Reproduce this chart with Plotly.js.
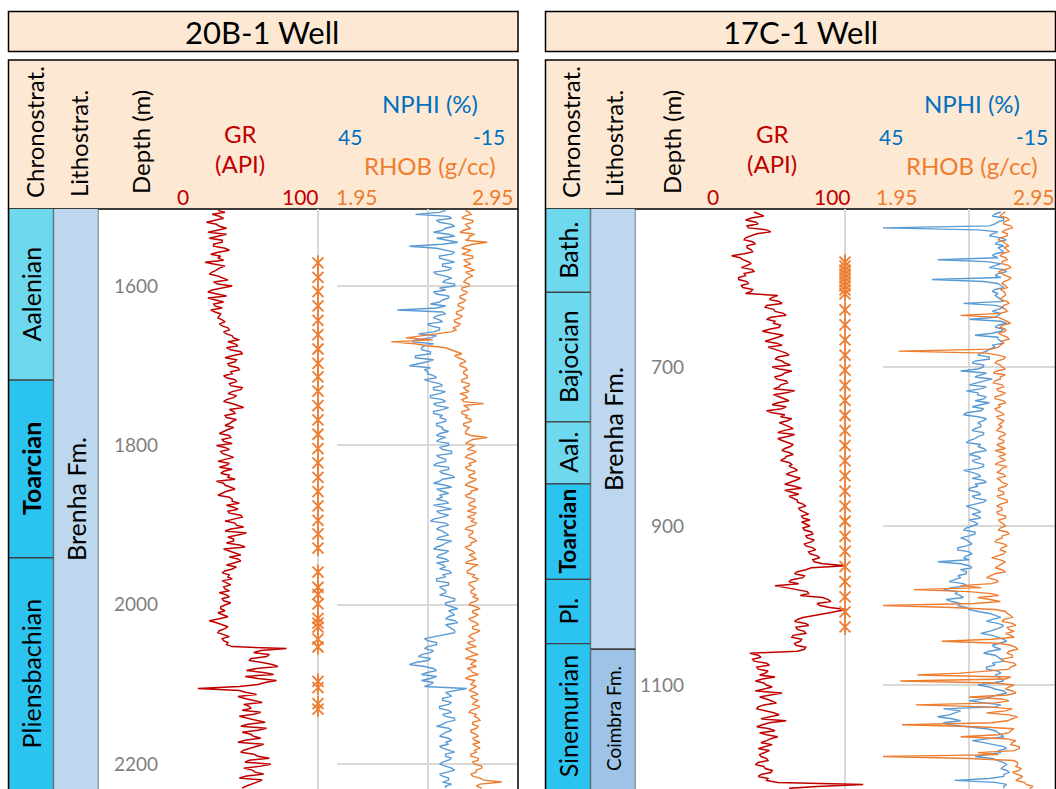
<!DOCTYPE html>
<html>
<head>
<meta charset="utf-8">
<script src="https://cdn.plot.ly/plotly-3.0.1.min.js"></script>
<style>html,body{margin:0;padding:0;background:#fff;}#chart{width:1056px;height:789px;}</style>
</head>
<body>
<div id="chart"></div>
<script>
// ---------------- DATA ----------------
// Log sampling (curves are read every 2.5 m from the picture)
const LOG_STEP = 2.5;

// 20B-1 well (left)
const WELL_L_NAME = '20B-1 Well';
const CHR_L_NAMES = ['Aalenian', 'Toarcian', 'Pliensbachian'];
const CHR_L_TOPS  = [1490, 1718, 1941];
const CHR_L_BASES = [1718, 1941, 2245];
const LIT_L_NAMES = ['Brenha Fm.'];
const LIT_L_TOPS  = [1490];
const LIT_L_BASES = [2245];
const DEPTH_TICKS_L = [1600, 1800, 2000, 2200];
const SAMPLES_L = [1571,1589,1607,1625,1643,1661,1679,1697,1714,1732,1750,1768,1786,1804,1822,1840,1858,1876,1894,1911,1929,
  1959,1978,1987,1999,2017,2023,2028,2043,2053,2096,2104,2124,2131];
const LOG_TOP_L = 1505;
const GR_L = [30,35,26,31,34,27,22,29,31,36,28,23,36,30,24,33,33,27,27,35,38,30,25,32,30,34,21,28,35,31,29,26,24,30,33,37,27,30,40,32,26,23,31,36,23,29,34,27,28,33,25,28,32,31,
  30,33,35,31,33,37,38,34,36,40,
  41,45,37,42,44,36,39,46,47,40,35,43,42,37,38,44,45,39,40,34,36,42,43,38,39,47,46,40,37,43,41,36,34,40,44,48,38,41,42,35,36,43,40,38,35,41,
  37,34,31,38,39,33,34,40,29,35,38,32,33,37,41,35,30,38,36,31,40,34,32,38,37,42,29,34,35,39,42,36,33,30,38,40,
  40,45,36,41,44,37,38,46,47,40,35,42,43,48,39,35,50,44,37,41,41,36,45,49,34,38,42,46,38,44,46,40,36,43,40,35,33,38,
  37,40,33,36,39,34,35,38,31,36,38,33,34,39,36,32,32,35,30,34,37,31,24,29,33,37,35,31,30,34,38,33,34,37,36,40,
  78,60,55,66,64,53,52,61,68,72,57,50,62,69,49,58,71,63,58,45,
  16,45,
  50,57,44,49,56,61,48,52,53,47,60,55,45,51,57,63,51,46,64,58,47,53,55,60,49,44,62,57,53,48,46,55,58,66,52,49,67,60,48,54,56,62,50,45,61,57,54,50,47];
const NPHI_L = [9,11,19,8,7,12,11,7,6,9,10,13,8,6,12,9,5,10,21,12,9,6,7,11,11,8,6,10,10,7,8,13,12,9,
  7,9,10,6,6,11,9,13,12,8,8,10,11,14,9,12,25,10,9,12,13,11,10,15,14,11,11,13,
  18,12,14,19,20,13,16,17,
  17,14,14,19,19,13,15,18,21,14,16,15,
  15,13,12,16,14,11,10,13,13,9,11,14,14,10,9,13,12,8,10,13,13,10,11,9,9,12,12,10,10,8,11,12,
  9,11,12,8,8,11,10,7,7,12,11,9,9,12,13,8,8,11,10,7,6,10,11,13,9,7,12,10,8,11,10,12,9,8,13,10,7,12,11,8,
  10,13,14,9,8,11,12,10,9,8,11,12,7,9,10,12,13,8,9,11,12,9,8,12,10,9,11,8,7,10,9,12,12,8,8,11,10,9,9,11,
  8,6,6,9,9,7,5,8,7,6,8,9,6,5,9,8,7,6,6,9,
  13,16,15,12,12,15,16,13,14,17,18,14,15,19,21,16,13,12,15,17,12,14,17,13,14,16,
  2,6,
  9,8,7,10,10,7,8,11,11,8,7,10,9,6,6,9,10,12,8,7,9,10,11,8,7,9,8,11,10,8,6,9,9,7,8,10,11,9,7,6,9,11,10,8,8,10,7,9,9];
const RHOB_L = [2.66,2.68,2.69,2.65,2.64,2.70,2.70,2.66,2.67,2.69,2.65,2.63,2.71,2.68,2.68,2.66,2.78,2.70,2.66,2.64,2.69,2.67,2.64,2.70,2.70,2.65,2.67,2.69,2.65,2.68,2.71,2.66,2.68,2.70,
  2.67,2.66,2.65,2.68,2.68,2.64,2.64,2.67,2.66,2.63,2.63,2.66,2.65,2.62,2.62,2.65,2.64,2.61,2.61,2.64,2.63,2.60,2.60,2.63,2.62,2.59,2.61,2.58,
  2.50,2.42,2.33,2.48,2.25,2.38,2.45,2.55,
  2.58,2.62,2.64,2.60,2.62,2.65,2.66,2.63,2.63,2.66,2.67,2.65,
  2.65,2.67,2.67,2.64,2.64,2.68,2.68,2.65,2.66,2.68,2.63,2.66,2.67,2.64,2.65,2.76,2.65,2.67,2.68,2.64,2.64,2.67,2.66,2.69,2.69,2.65,2.65,2.68,2.67,2.66,2.66,2.69,
  2.78,2.70,2.68,2.66,2.71,2.69,2.67,2.72,2.70,2.67,2.66,2.70,2.72,2.68,2.69,2.66,2.67,2.71,2.71,2.68,2.68,2.72,2.70,2.67,2.66,2.70,2.73,2.69,2.69,2.66,2.67,2.71,2.71,2.68,2.68,2.72,2.70,2.67,2.72,2.70,
  2.67,2.71,2.69,2.72,2.71,2.67,2.66,2.70,2.70,2.68,2.68,2.71,2.72,2.69,2.69,2.66,2.67,2.70,2.71,2.68,2.70,2.72,2.68,2.66,2.73,2.70,2.69,2.67,2.67,2.71,2.70,2.73,2.72,2.68,2.68,2.70,2.71,2.69,2.69,2.72,
  2.70,2.73,2.72,2.69,2.68,2.72,2.74,2.70,2.70,2.73,2.71,2.68,2.69,2.72,2.73,2.70,2.70,2.74,2.72,2.69,
  2.68,2.70,2.71,2.67,2.69,2.72,2.66,2.68,2.70,2.73,2.68,2.66,2.72,2.70,2.69,2.72,2.67,2.69,2.70,2.73,2.68,2.66,2.71,2.70,2.69,2.72,
  2.70,2.68,
  2.71,2.73,2.69,2.70,2.73,2.71,2.70,2.74,2.72,2.69,2.68,2.72,2.71,2.73,2.74,2.70,2.70,2.73,2.72,2.69,2.69,2.72,2.73,2.70,2.71,2.74,2.70,2.72,2.74,2.71,2.72,2.69,2.69,2.73,2.73,2.70,2.71,2.75,2.75,2.72,2.72,2.69,2.70,2.74,2.76,2.86,2.74,2.72,2.75];

// 17C-1 well (right)
const WELL_R_NAME = '17C-1 Well';
const CHR_R_NAMES = ['Bath.', 'Bajocian', 'Aal.', 'Toarcian', 'Pl.', 'Sinemurian'];
const CHR_R_TOPS  = [490, 606, 769, 847, 967, 1048];
const CHR_R_BASES = [606, 769, 847, 967, 1048, 1245];
const LIT_R_NAMES = ['Brenha Fm.', 'Coimbra Fm.'];
const LIT_R_TOPS  = [490, 1055];
const LIT_R_BASES = [1055, 1245];
const DEPTH_TICKS_R = [500, 700, 900, 1100];
const SAMPLES_R = [568,573,578,583,588,593,598,603,608,
  628,647,666,685,704,723,742,761,780,799,818,837,856,875,894,913,932,951,970,989,1008,1027];
const LOG_TOP_R = 505;
const GR_R = [35,39,42,33,29,36,38,30,31,44,47,37,33,29,28,34,36,30,
  30,33,34,28,19,25,27,31,33,29,26,34,35,28,29,24,24,30,31,26,27,34,33,29,
  52,48,46,53,55,44,43,49,50,56,58,47,44,50,49,54,53,46,41,48,56,52,47,43,51,55,45,50,
  54,58,60,52,50,55,57,61,48,53,62,57,55,50,51,58,59,54,53,49,64,58,49,53,56,60,52,48,58,55,
  44,48,
  57,54,62,59,53,57,60,63,56,52,64,59,52,55,59,63,61,57,55,60,63,58,57,54,60,62,
  60,64,66,61,58,63,68,65,61,57,64,69,57,62,67,60,63,66,
  66,70,72,67,68,71,74,69,70,75,69,72,75,70,71,76,77,72,73,78,76,71,72,77,79,74,75,80,82,77,78,84,
  101,76,
  72,66,64,71,70,62,60,67,50,58,66,73,74,68,
  84,88,90,80,82,89,101,92,86,78,
  70,66,64,72,74,65,66,71,72,63,62,69,68,64,65,72,71,66,
  32,38,40,34,35,44,46,37,38,45,43,39,50,41,36,42,44,48,41,36,55,47,39,44,47,51,42,38,37,44,49,53,45,40,58,46,41,37,46,50,39,44,52,47,44,40,48,42,38,46,43,39,
  40,44,45,38,36,42,43,48,47,40,38,45,44,52,
  113,80,60];
const NPHI_R = [4,6,7,3,3,5,6,8,45,12,5,7,8,4,2,5,6,3,
  5,4,3,6,7,5,26,9,4,6,8,3,2,5,6,4,28,10,5,4,3,6,7,5,
  6,5,4,3,17,6,3,5,7,4,5,6,15,4,2,5,6,3,4,7,13,5,5,4,3,7,6,8,
  9,11,12,8,8,13,14,10,10,12,18,9,11,13,7,10,13,15,9,11,16,12,12,9,10,13,8,11,14,10,11,16,17,12,9,10,12,11,
  11,13,14,10,10,12,13,15,16,11,12,10,9,13,15,12,11,14,13,10,10,12,17,14,12,11,14,10,9,13,12,15,15,12,11,14,13,9,10,13,16,14,12,11,14,12,11,15,13,12,
  14,16,17,13,13,15,18,16,15,14,16,19,19,15,14,16,17,15,26,18,15,14,18,16,16,19,
  18,20,22,17,16,21,24,19,20,18,17,23,21,18,19,16,15,12,
  8,6,4,7,9,5,3,4,6,8,11,7,5,3,2,5,7,6,4,8,10,6,5,4,3,7,6,9,9,5,4,6,
  5,4,3,7,12,8,6,3,2,5,8,10,15,9,4,6,24,18,20,22,26,21,18,24,22,15,9,6,5,4,3,8,14,10,6,3,2,5,4,9,13,7,5,3,
  2,3,4,2,1,3,3,8,20,6,2,3,3];
const RHOB_R = [2.66,2.64,2.63,2.67,2.68,2.65,2.65,2.69,2.70,2.66,2.64,2.67,2.67,2.63,2.62,2.65,2.66,2.68,
  2.65,2.67,2.68,2.64,2.63,2.66,2.67,2.64,2.64,2.68,2.69,2.65,2.62,2.64,2.66,2.69,2.68,2.65,2.64,2.66,2.67,2.63,2.65,2.66,
  2.66,2.64,2.63,2.67,2.68,2.65,2.64,2.66,2.67,2.63,2.40,2.62,2.65,2.67,2.69,2.64,2.63,2.66,2.66,2.62,2.64,2.67,2.68,2.64,2.65,2.63,2.62,2.58,
  2.04,2.55,2.62,2.66,2.65,2.61,2.60,2.63,2.64,2.66,2.61,2.59,2.66,2.63,2.63,2.60,2.59,2.64,2.65,2.61,2.62,2.66,2.64,2.60,2.60,2.65,2.66,2.62,2.63,2.60,2.61,2.64,2.65,2.61,2.62,2.65,2.64,2.62,
  2.64,2.62,2.61,2.65,2.66,2.63,2.62,2.65,2.65,2.61,2.63,2.66,2.60,2.64,2.66,2.62,2.64,2.66,2.62,2.60,2.67,2.64,2.63,2.61,2.65,2.66,2.61,2.63,2.64,2.67,2.66,2.62,2.62,2.65,2.65,2.61,2.63,2.67,2.67,2.63,2.61,2.64,2.64,2.61,2.62,2.66,2.66,2.62,2.63,2.65,
  2.66,2.63,2.62,2.67,2.68,2.64,2.64,2.61,2.60,2.65,2.67,2.64,2.63,2.66,2.65,2.61,2.58,2.63,2.66,2.64,2.62,2.60,2.64,2.66,2.60,2.57,
  2.55,2.60,2.62,2.58,2.40,2.52,2.13,2.45,2.58,2.62,2.50,2.57,2.63,2.48,1.95,2.35,2.60,2.66,
  2.67,2.69,2.70,2.65,2.64,2.70,2.72,2.67,2.68,2.71,2.66,2.69,2.71,2.58,2.29,2.62,2.69,2.72,2.73,2.68,2.67,2.70,2.70,2.64,2.65,2.71,2.72,2.69,2.68,2.55,2.40,2.15,
  2.69,2.66,2.05,2.60,2.71,2.68,2.66,2.70,2.72,2.67,2.45,2.64,2.68,2.60,2.14,2.55,2.70,2.66,2.55,2.68,2.73,2.70,2.67,2.58,2.06,2.50,2.71,2.69,2.68,2.62,2.40,2.66,2.72,2.70,2.69,2.74,2.74,2.71,2.50,2.62,1.95,2.45,2.71,2.73,
  2.73,2.72,2.75,2.74,2.70,2.73,2.76,2.74,2.72,2.77,2.78,2.82,2.80];

// ---------------- STYLE / GEOMETRY ----------------
const W = 1056, H = 789;
const X = p => p / W;
const Y = p => 1 - p / H;
const FONT = 'Lato, "Open Sans", sans-serif';
const C_GR = '#C00000', C_NPHI = '#5B9BD5', C_RHOB = '#ED7D31';
const C_NPHI_TXT = '#0070C0';
const PEACH = '#FDE9D3';
const GRID = '#D9D9D9';
const STAGE_COLORS = {
  'Aalenian':'#6DD8EE','Bath.':'#6DD8EE','Bajocian':'#6DD8EE','Aal.':'#6DD8EE',
  'Toarcian':'#2BC4F0','Pliensbachian':'#2BC4F0','Pl.':'#2BC4F0','Sinemurian':'#2BC4F0'
};
const FM_COLORS = {'Brenha Fm.':'#BDD7EE','Coimbra Fm.':'#9DC3E6'};
const BOLD = ['Toarcian'];

const PLOT_TOP = 209;
const YDOM = [0, Y(PLOT_TOP)];

const wells = [
  {name: WELL_L_NAME, chr:[CHR_L_NAMES,CHR_L_TOPS,CHR_L_BASES], lit:[LIT_L_NAMES,LIT_L_TOPS,LIT_L_BASES],
   ticks: DEPTH_TICKS_L, samples: SAMPLES_L, top: LOG_TOP_L, gr: GR_L, nphi: NPHI_L, rhob: RHOB_L,
   range:[2231.2, 1503.3], left:8.5, right:518, chrX:[8.5,53.5], litX:[53.5,98.5], tickPos:158,
   grX:[175,337], grMax:113.29, nX:[337,518]},
  {name: WELL_R_NAME, chr:[CHR_R_NAMES,CHR_R_TOPS,CHR_R_BASES], lit:[LIT_R_NAMES,LIT_R_TOPS,LIT_R_BASES],
   ticks: DEPTH_TICKS_R, samples: SAMPLES_R, top: LOG_TOP_R, gr: GR_R, nphi: NPHI_R, rhob: RHOB_R,
   range:[1230.8, 501.25], left:545.5, right:1055.5, chrX:[545.5,590.5], litX:[590.5,635.5], tickPos:684,
   grX:[705,883], grMax:127.14, nX:[883,1055.5]}
];

const traces = [];
const layout = {
  width: W, height: H, margin:{l:0,r:0,t:0,b:0,pad:0},
  paper_bgcolor:'#fff', plot_bgcolor:'#fff', showlegend:false,
  font:{family:FONT, color:'#000'}, barmode:'overlay',
  shapes:[], annotations:[]
};

wells.forEach((w, i) => {
  const xb = i*5, yb = i*2;
  const xn = k => 'x' + (xb + k === 1 ? '' : (xb + k));
  const xk = k => 'xaxis' + (xb + k === 1 ? '' : (xb + k));
  const yD = 'y' + (yb + 1 === 1 ? '' : (yb + 1));
  const yG = 'y' + (yb + 2);
  const ykD = 'yaxis' + (yb + 1 === 1 ? '' : (yb + 1));
  const ykG = 'yaxis' + (yb + 2);

  layout[xk(1)] = {domain:[X(w.chrX[0]),X(w.chrX[1])], range:[-0.5,0.5], anchor:yD, visible:false, fixedrange:true};
  layout[xk(2)] = {domain:[X(w.litX[0]),X(w.litX[1])], range:[-0.5,0.5], anchor:yD, visible:false, fixedrange:true};
  layout[xk(3)] = {domain:[X(w.grX[0]),X(w.grX[1])], range:[0,w.grMax], anchor:yD, tickvals:[0,100],
    showticklabels:false, ticks:'', showgrid:true, gridcolor:GRID, gridwidth:2, zeroline:false, showline:false, fixedrange:true};
  layout[xk(4)] = {domain:[X(w.nX[0]),X(w.nX[1])], range:[45,-15], anchor:yG, tickvals:[45,15],
    showticklabels:false, ticks:'', showgrid:true, gridcolor:GRID, gridwidth:2, zeroline:false, showline:false, fixedrange:true};
  layout[xk(5)] = {domain:[X(w.nX[0]),X(w.nX[1])], range:[1.95,2.95], anchor:yG, overlaying:xn(4),
    showticklabels:false, ticks:'', showgrid:false, zeroline:false, showline:false, fixedrange:true};
  layout[ykD] = {domain:YDOM, range:w.range, anchor:'free', position:X(w.tickPos), side:'left',
    tickvals:w.ticks, ticks:'', showgrid:false, zeroline:false, showline:false,
    tickfont:{size:19, color:'#7F7F7F', family:FONT}, fixedrange:true};
  layout[ykG] = {domain:YDOM, range:w.range, anchor:xn(4), tickvals:w.ticks, showticklabels:false, ticks:'',
    showgrid:true, gridcolor:GRID, gridwidth:2, zeroline:false, showline:false, fixedrange:true};

  const vTop = Math.min(w.range[0], w.range[1]), vBot = Math.max(w.range[0], w.range[1]);
  const pxPerM = (H - PLOT_TOP) / (vBot - vTop);

  const addColumn = (col, k, colors, maxSize) => {
    const [names, tops, bases] = col;
    traces.push({type:'bar', x:names.map(() => 0), y:names.map((n, j) => bases[j] - tops[j]), base:tops,
      width:1, xaxis:xn(k), yaxis:yD, hoverinfo:'skip',
      marker:{color:names.map(n => colors[n]), line:{color:'#404040', width:1.3}}});
    names.forEach((n, j) => {
      const a = Math.max(tops[j], vTop), b = Math.min(bases[j], vBot);
      const boxPx = (b - a) * pxPerM;
      const bold = BOLD.includes(n);
      const fit = (boxPx - 8) / (n.length * (bold ? 0.48 : 0.42));
      const size = Math.max(14, Math.min(maxSize(n), fit));
      layout.annotations.push({xref:xn(k), yref:yD, x:0, y:(a + b) / 2, text: bold ? '<b>'+n+'</b>' : n,
        textangle:-90, showarrow:false, xanchor:'center', yanchor:'middle',
        font:{size, color:'#000', family:FONT}});
    });
  };
  addColumn(w.chr, 1, STAGE_COLORS, () => 25);
  addColumn(w.lit, 2, FM_COLORS, n => n === 'Coimbra Fm.' ? 19 : 25);

  // curves (depth built by Plotly from the first sample depth and the sampling step)
  traces.push({type:'scatter', mode:'lines', x:w.gr, y0:w.top, dy:LOG_STEP, xaxis:xn(3), yaxis:yD,
    line:{color:C_GR, width:1.5}, hoverinfo:'skip'});
  const sx = w.samples.map(() => 100);
  traces.push({type:'scatter', mode:'markers', x:sx, y:w.samples, xaxis:xn(3), yaxis:yD,
    marker:{symbol:'x-thin-open', size:11, color:C_RHOB, line:{color:C_RHOB, width:1.8}}, hoverinfo:'skip', cliponaxis:false});
  traces.push({type:'scatter', mode:'markers', x:sx, y:w.samples, xaxis:xn(3), yaxis:yD,
    marker:{symbol:'line-ns-open', size:11, color:C_RHOB, line:{color:C_RHOB, width:1.8}}, hoverinfo:'skip', cliponaxis:false});
  traces.push({type:'scatter', mode:'lines', x:w.nphi, y0:w.top, dy:LOG_STEP, xaxis:xn(4), yaxis:yG,
    line:{color:C_NPHI, width:1.4}, hoverinfo:'skip'});
  traces.push({type:'scatter', mode:'lines', x:w.rhob, y0:w.top, dy:LOG_STEP, xaxis:xn(5), yaxis:yG,
    line:{color:C_RHOB, width:1.4}, hoverinfo:'skip'});

  const box = (x0, x1, y0, y1, fill) => ({type:'rect', xref:'paper', yref:'paper',
    x0:X(x0), x1:X(x1), y0:Y(y1), y1:Y(y0), fillcolor:fill, line:{color:'#000', width:1.5}, layer:'below'});
  layout.shapes.push(box(w.left, w.right, 11.5, 51.5, PEACH));
  layout.shapes.push(box(w.left, w.right, 60, PLOT_TOP, PEACH));
  layout.shapes.push({type:'line', xref:'paper', yref:'paper', x0:X(w.left), x1:X(w.left), y0:Y(PLOT_TOP), y1:0,
    line:{color:'#000', width:1.5}, layer:'above'});
  layout.shapes.push({type:'line', xref:'paper', yref:'paper', x0:X(w.right), x1:X(w.right), y0:Y(PLOT_TOP), y1:0,
    line:{color:'#000', width:1.5}, layer:'above'});

  const hx = i === 0
    ? {t:262, chr:34, lit:78, dep:140, gr:240, g0:183, g100:300, n:430, n45:350, n15:489, r195:357, r295:493}
    : {t:800, chr:570, lit:613, dep:671, gr:772, g0:713, g100:832, n:972, n45:891, n15:1032, r195:897, r295:1034};
  const ann = (x, y, text, size, color, angle) => layout.annotations.push({xref:'paper', yref:'paper',
    x:X(x), y:Y(y), text, showarrow:false, xanchor:'center', yanchor:'middle', textangle:angle||0,
    font:{size, color, family:FONT}});
  ann(hx.t, 32, w.name, 31, '#000');
  ann(hx.chr, 132, 'Chronostrat.', 24, '#000', -90);
  ann(hx.lit, 144, 'Lithostrat.', 24, '#000', -90);
  ann(hx.dep, 142, 'Depth (m)', 24, '#000', -90);
  ann(hx.gr, 134, 'GR', 24, C_GR);
  ann(hx.gr, 164, '(API)', 24, C_GR);
  ann(hx.g0, 196, '0', 21, C_GR);
  ann(hx.g100, 196, '100', 21, C_GR);
  ann(hx.n, 103, 'NPHI (%)', 24, C_NPHI_TXT);
  ann(hx.n45, 136, '45', 21, C_NPHI_TXT);
  ann(hx.n15, 136, '-15', 21, C_NPHI_TXT);
  ann(hx.n, 166, 'RHOB (g/cc)', 24, C_RHOB);
  ann(hx.r195, 196, '1.95', 21, C_RHOB);
  ann(hx.r295, 196, '2.95', 21, C_RHOB);
});

Plotly.newPlot('chart', traces, layout, {displayModeBar:false, staticPlot:true});
</script>
</body>
</html>
